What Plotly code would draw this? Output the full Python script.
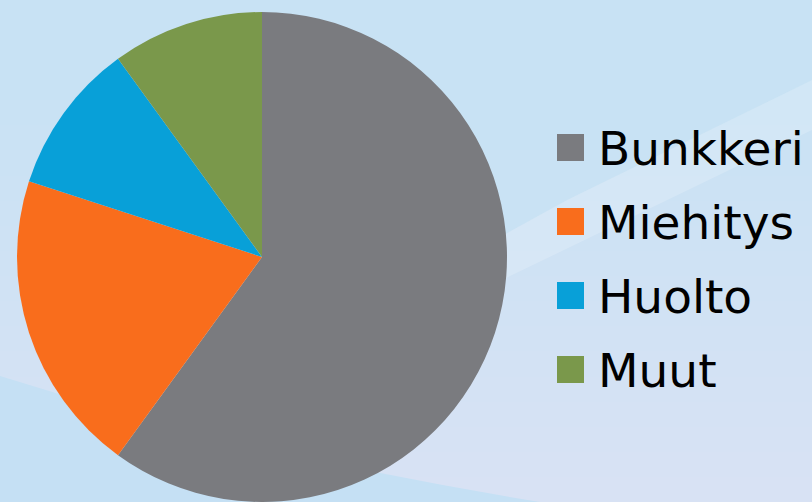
import plotly.graph_objects as go

# ---- data ----
labels = ["Bunkkeri", "Miehitys", "Huolto", "Muut"]
values = [60, 20, 10, 10]
colors = ["#7a7b7f", "#f96d1c", "#08a0d8", "#7a984b"]

W, H = 812, 502


def px(x):
    return x / W


def py(y):
    return 1 - y / H


fig = go.Figure()

fig.add_trace(go.Pie(
    labels=labels,
    values=values,
    marker=dict(colors=colors, line=dict(width=0)),
    sort=False,
    direction="clockwise",
    rotation=0,
    textinfo="none",
    hoverinfo="label+percent",
    showlegend=False,
    domain=dict(x=[px(262 - 245), px(262 + 245)], y=[py(502), py(12)]),
))

shapes = []
# background vertical gradient (lighter toward bottom)
n = 16
for i in range(n):
    y0 = 100 + i * (402 / n)
    y1 = 502
    shapes.append(dict(type="rect", xref="paper", yref="paper", layer="below",
                       x0=0, x1=1, y0=py(y1), y1=py(y0),
                       fillcolor="rgba(240,248,255,0.03)", line=dict(width=0)))
# darker region bottom-left
shapes.append(dict(type="path", xref="paper", yref="paper", layer="below",
                   path=f"M 0,{py(376)} Q {px(250)},{py(455)} {px(540)},{py(502)} L 0,{py(502)} Z",
                   fillcolor="#c5e0f4", line=dict(width=0)))
# top-right darker (above swoosh edge)
shapes.append(dict(type="path", xref="paper", yref="paper", layer="below",
                   path=f"M {px(812)},{py(80)} L {px(567)},{py(200)} L {px(440)},{py(270)} L {px(440)},{py(0)} L {px(812)},{py(0)} Z",
                   fillcolor="rgba(200,226,244,0.7)", line=dict(width=0)))
# light diagonal streak
shapes.append(dict(type="path", xref="paper", yref="paper", layer="below",
                   path=f"M {px(812)},{py(80)} L {px(567)},{py(200)} L {px(440)},{py(270)} L {px(440)},{py(310)} L {px(812)},{py(130)} Z",
                   fillcolor="rgba(255,255,255,0.18)", line=dict(width=0)))

annotations = []
y_centers = [147.5, 221.5, 295.5, 369.5]
for lab, col, yc in zip(labels, colors, y_centers):
    shapes.append(dict(type="rect", xref="paper", yref="paper",
                       x0=px(557), x1=px(584), y0=py(yc + 13.5), y1=py(yc - 13.5),
                       fillcolor=col, line=dict(width=0)))
    annotations.append(dict(text=lab, xref="paper", yref="paper",
                            x=px(596), y=py(yc + 1), xanchor="left", yanchor="middle",
                            showarrow=False,
                            font=dict(family="DejaVu Sans, Verdana, sans-serif", size=47, color="#000000")))

fig.update_layout(
    width=W, height=H,
    margin=dict(l=0, r=0, t=0, b=0),
    paper_bgcolor="#c8e2f4",
    plot_bgcolor="#c8e2f4",
    shapes=shapes,
    annotations=annotations,
    showlegend=False,
)

fig.write_html("out.html",
               config={"displayModeBar": False},
               post_script="document.body.style.margin='0';document.body.style.padding='0';document.body.style.overflow='hidden';")
